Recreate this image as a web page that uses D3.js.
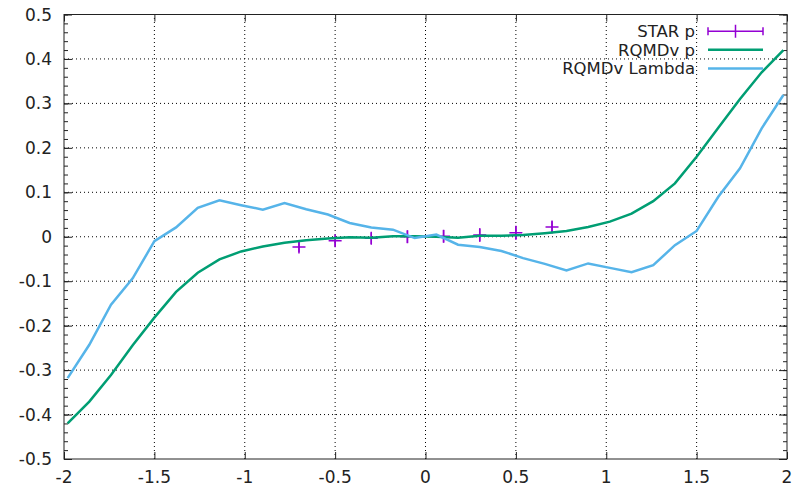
<!DOCTYPE html>
<html>
<head>
<meta charset="utf-8">
<script src="https://cdn.jsdelivr.net/npm/d3@7"></script>
<style>
  body { margin: 0; background: #fff; }
  svg text { font-family: "DejaVu Sans", sans-serif; font-size: 17px; fill: #222; }
  svg text.leg { font-size: 16.5px; }
</style>
</head>
<body>
<div id="chart"></div>
<script>
// bin centres shared by both model curves
var modelX = [-1.98, -1.86, -1.74, -1.62, -1.5, -1.38, -1.26, -1.14, -1.02, -0.9, -0.78, -0.66,
              -0.54, -0.42, -0.3, -0.18, -0.06, 0.06, 0.18, 0.3, 0.42, 0.54, 0.66, 0.78,
              0.9, 1.02, 1.14, 1.26, 1.38, 1.5, 1.62, 1.74, 1.86, 1.98];
var rqmdP = [-0.42, -0.371, -0.311, -0.244, -0.182, -0.124, -0.081, -0.051, -0.033, -0.022, -0.0135, -0.008,
             -0.004, -0.001, -0.002, 0.001, 0.001, 0.0, -0.002, 0.002, 0.002, 0.004, 0.008, 0.013,
             0.022, 0.034, 0.052, 0.08, 0.12, 0.18, 0.245, 0.31, 0.37, 0.42];
var rqmdLambda = [-0.318, -0.243, -0.153, -0.0935, -0.01, 0.021, 0.065, 0.082, 0.071, 0.061, 0.076, 0.062,
                  0.05, 0.031, 0.021, 0.016, -0.003, 0.005, -0.018, -0.023, -0.032, -0.048, -0.061, -0.076,
                  -0.06, -0.07, -0.08, -0.064, -0.019, 0.013, 0.09, 0.154, 0.244, 0.319];

var starX = [-0.7, -0.5, -0.3, -0.1, 0.1, 0.3, 0.5, 0.7];
var starY = [-0.023, -0.009, -0.0035, 0.0, 0.001, 0.004, 0.009, 0.022];
var starErr = [0.012, 0.012, 0.013, 0.014, 0.014, 0.015, 0.016, 0.013];

var xTicks = [-2, -1.5, -1, -0.5, 0, 0.5, 1, 1.5, 2];
var yTicks = [-0.5, -0.4, -0.3, -0.2, -0.1, 0, 0.1, 0.2, 0.3, 0.4, 0.5];
var xTickLabels = ["-2", "-1.5", "-1", "-0.5", "0", "0.5", "1", "1.5", "2"];
var yTickLabels = ["-0.5", "-0.4", "-0.3", "-0.2", "-0.1", "0", "0.1", "0.2", "0.3", "0.4", "0.5"];

var legendNames = ["STAR p", "RQMDv p", "RQMDv Lambda"];
var colors = {star: "#9400d3", p: "#009e73", lambda: "#56b4e9"};

var width = 799, height = 488;
var margin = {top: 14.5, right: 12, bottom: 29, left: 64};

var svg = d3.select("#chart").append("svg")
    .attr("width", width)
    .attr("height", height);

var x = d3.scaleLinear().domain([-2, 2]).range([margin.left, width - margin.right]);
var y = d3.scaleLinear().domain([-0.5, 0.5]).range([height - margin.bottom, margin.top]);

// grid
var grid = svg.append("g").attr("class", "grid");
grid.selectAll(".gx").data(xTicks.slice(1, -1)).enter()
    .append("line")
    .attr("x1", function(d){ return x(d); })
    .attr("x2", function(d){ return x(d); })
    .attr("y1", y(-0.5)).attr("y2", y(0.5))
    .attr("stroke", "#000").attr("stroke-width", 1)
    .attr("stroke-dasharray", "1,3");
grid.selectAll(".gy").data(yTicks.slice(1, -1)).enter()
    .append("line")
    .attr("y1", function(d){ return y(d); })
    .attr("y2", function(d){ return y(d); })
    .attr("x1", x(-2)).attr("x2", x(2))
    .attr("stroke", "#000").attr("stroke-width", 1)
    .attr("stroke-dasharray", "1,3");

// axes, ticks pointing inward
var minorY = d3.range(-0.5, 0.5001, 0.02);
svg.append("g")
    .attr("transform", "translate(0," + y(-0.5) + ")")
    .call(d3.axisTop(x).tickValues(xTicks).tickSize(7).tickFormat(""));
svg.append("g")
    .attr("transform", "translate(0," + y(0.5) + ")")
    .call(d3.axisBottom(x).tickValues(xTicks).tickSize(7).tickFormat(""));
svg.append("g")
    .attr("transform", "translate(" + x(-2) + ",0)")
    .call(d3.axisRight(y).tickValues(yTicks).tickSize(8).tickFormat(""));
svg.append("g")
    .attr("transform", "translate(" + x(2) + ",0)")
    .call(d3.axisLeft(y).tickValues(yTicks).tickSize(8).tickFormat(""));
svg.append("g")
    .attr("transform", "translate(" + x(-2) + ",0)")
    .call(d3.axisRight(y).tickValues(minorY).tickSize(4).tickFormat(""));
svg.append("g")
    .attr("transform", "translate(" + x(2) + ",0)")
    .call(d3.axisLeft(y).tickValues(minorY).tickSize(4).tickFormat(""));
svg.selectAll(".domain").remove();
svg.selectAll(".tick line").attr("stroke", "#222");

svg.append("rect")
    .attr("x", x(-2)).attr("y", y(0.5))
    .attr("width", x(2) - x(-2)).attr("height", y(-0.5) - y(0.5))
    .attr("fill", "none").attr("stroke", "#222").attr("stroke-width", 1);

// tick labels
svg.selectAll(".xl").data(xTicks).enter()
    .append("text")
    .attr("x", function(d){ return x(d); })
    .attr("y", height - 5)
    .attr("text-anchor", "middle")
    .text(function(d, i){ return xTickLabels[i]; });
svg.selectAll(".yl").data(yTicks).enter()
    .append("text")
    .attr("x", x(-2) - 12)
    .attr("y", function(d){ return y(d) + 6; })
    .attr("text-anchor", "end")
    .text(function(d, i){ return yTickLabels[i]; });

// clip to plot
svg.append("clipPath").attr("id", "clip")
    .append("rect")
    .attr("x", x(-2)).attr("y", y(0.5))
    .attr("width", x(2) - x(-2)).attr("height", y(-0.5) - y(0.5));
var plot = svg.append("g").attr("clip-path", "url(#clip)");

// STAR p with error bars
var star = plot.selectAll(".star").data(starX).enter().append("g");
star.append("line")
    .attr("x1", function(d){ return x(d); })
    .attr("x2", function(d){ return x(d); })
    .attr("y1", function(d, i){ return y(starY[i] - starErr[i]); })
    .attr("y2", function(d, i){ return y(starY[i] + starErr[i]); })
    .attr("stroke", colors.star).attr("stroke-width", 1.5);
star.append("path")
    .attr("d", function(d, i){
        var cx = x(d), cy = y(starY[i]);
        return "M" + (cx - 6.5) + "," + cy + "H" + (cx + 6.5) + "M" + cx + "," + (cy - 6.5) + "V" + (cy + 6.5);
    })
    .attr("stroke", colors.star).attr("stroke-width", 1.5).attr("fill", "none");

var line = d3.line()
    .x(function(d){ return x(d[0]); })
    .y(function(d){ return y(d[1]); });

plot.append("path")
    .datum(modelX.map(function(d, i){ return [d, rqmdP[i]]; }))
    .attr("d", line)
    .attr("fill", "none").attr("stroke", colors.p).attr("stroke-width", 2.5);
plot.append("path")
    .datum(modelX.map(function(d, i){ return [d, rqmdLambda[i]]; }))
    .attr("d", line)
    .attr("fill", "none").attr("stroke", colors.lambda).attr("stroke-width", 2.5);

// legend
var legY = [31.2, 49.8, 68.4];
var lx1 = 708, lx2 = 763;
svg.selectAll(".lt").data(legendNames).enter()
    .append("text")
    .attr("class", "leg")
    .attr("x", 695)
    .attr("y", function(d, i){ return legY[i] + 6; })
    .attr("text-anchor", "end")
    .text(function(d){ return d; });

var legStar = svg.append("g").attr("stroke", colors.star).attr("stroke-width", 1.5).attr("fill", "none");
legStar.append("path")
    .attr("d", "M" + lx1 + "," + legY[0] + "H" + lx2 +
               "M" + lx1 + "," + (legY[0] - 4) + "V" + (legY[0] + 4) +
               "M" + lx2 + "," + (legY[0] - 4) + "V" + (legY[0] + 4) +
               "M" + ((lx1 + lx2) / 2) + "," + (legY[0] - 6.5) + "V" + (legY[0] + 6.5));
svg.append("line")
    .attr("x1", lx1).attr("x2", lx2)
    .attr("y1", legY[1]).attr("y2", legY[1])
    .attr("stroke", colors.p).attr("stroke-width", 2.5);
svg.append("line")
    .attr("x1", lx1).attr("x2", lx2)
    .attr("y1", legY[2]).attr("y2", legY[2])
    .attr("stroke", colors.lambda).attr("stroke-width", 2.5);
</script>
</body>
</html>
